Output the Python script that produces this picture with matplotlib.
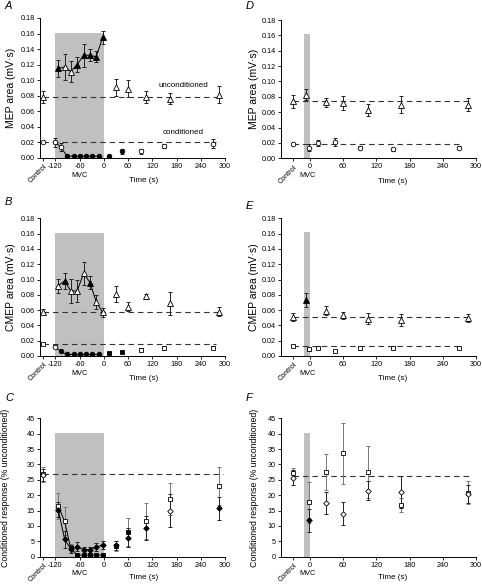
import numpy as np
import matplotlib
matplotlib.use("Agg")
import matplotlib.pyplot as plt

plt.rcParams['font.family'] = ['Liberation Sans', 'DejaVu Sans']

# ---- time axes ----
# left column (long MVC)
L_ctrl_t = -150
L_unc_mvc_t = [-113, -97, -82, -66, -50, -34, -19, -3]
L_con_mvc_t = [-120, -107, -91, -75, -60, -45, -29, -13]
L_unc_post_t = [30, 60, 105, 165, 285]
L_con_post_t = [14, 45, 91, 150, 270]
L_xticks = [-150, -120, -60, 0, 60, 120, 180, 240, 300]
L_xticklabels = ['Control', '-120', '-60', '0', '60', '120', '180', '240', '300']
L_band = (-120, 0)

# right column (brief MVC)
R_ctrl_t = -30
R_unc_mvc_t = [-7]
R_con_mvc_t = [-2]
R_unc_post_t = [30, 60, 105, 165, 285]
R_con_post_t = [15, 45, 90, 150, 270]
R_xticks = [-30, 0, 60, 120, 180, 240, 300]
R_xticklabels = ['Control', '0', '60', '120', '180', '240', '300']
R_band = (-10, 0)

# ---- panel A: MEP area ----
a_unc_ctrl, a_unc_ctrl_err = 0.078, 0.008
a_unc_mvc = [0.115, 0.117, 0.111, 0.120, 0.132, 0.132, 0.130, 0.155]
a_unc_mvc_err = [0.011, 0.017, 0.014, 0.010, 0.015, 0.008, 0.007, 0.008]
a_unc_mvc_fill = [1, 0, 0, 1, 1, 1, 1, 1]
a_unc_post = [0.091, 0.089, 0.078, 0.076, 0.081]
a_unc_post_err = [0.011, 0.011, 0.008, 0.007, 0.011]
a_unc_post_fill = [0, 0, 0, 0, 0]
a_con_ctrl, a_con_ctrl_err = 0.0205, 0.001
a_con_mvc = [0.020, 0.014, 0.002, 0.002, 0.002, 0.002, 0.002, 0.002]
a_con_mvc_err = [0.006, 0.005, 0, 0, 0, 0, 0, 0]
a_con_mvc_fill = [0, 0, 1, 1, 1, 1, 1, 1]
a_con_post = [0.002, 0.008, 0.008, 0.015, 0.018]
a_con_post_err = [0.001, 0.003, 0.003, 0.003, 0.006]
a_con_post_fill = [1, 1, 0, 0, 0]
a_unc_mean, a_con_mean = 0.078, 0.0205

# ---- panel B: CMEP area ----
b_unc_ctrl, b_unc_ctrl_err = 0.058, 0.003
b_unc_mvc = [0.092, 0.098, 0.085, 0.085, 0.108, 0.096, 0.071, 0.057]
b_unc_mvc_err = [0.009, 0.011, 0.016, 0.014, 0.015, 0.009, 0.009, 0.006]
b_unc_mvc_fill = [0, 1, 0, 0, 0, 1, 0, 0]
b_unc_post = [0.081, 0.0645, 0.078, 0.069, 0.058]
b_unc_post_err = [0.011, 0.006, 0.003, 0.015, 0.006]
b_unc_post_fill = [0, 0, 0, 0, 0]
b_con_ctrl, b_con_ctrl_err = 0.016, 0.001
b_con_mvc = [0.012, 0.006, 0.002, 0.002, 0.002, 0.002, 0.002, 0.002]
b_con_mvc_err = [0.002, 0.001, 0, 0, 0, 0, 0, 0]
b_con_mvc_fill = [0, 1, 1, 1, 1, 1, 1, 1]
b_con_post = [0.004, 0.005, 0.008, 0.010, 0.011]
b_con_post_err = [0.001, 0.001, 0.002, 0.002, 0.002]
b_con_post_fill = [1, 1, 0, 0, 0]
b_unc_mean, b_con_mean = 0.058, 0.016

# ---- panel C: conditioned response (% unconditioned) ----
c_sq_ctrl, c_sq_ctrl_err = 26.8, 2.5
c_sq_mvc = [16.5, 11.5, 2.8, 0.5, 0.5, 0.5, 0.5, 0.5]
c_sq_mvc_err = [4.3, 4.5, 1.2, 0.3, 0.3, 0.3, 0.3, 0.3]
c_sq_mvc_fill = [0, 0, 1, 1, 1, 1, 1, 1]
c_sq_post = [3.5, 8.0, 11.7, 18.8, 23.0]
c_sq_post_err = [1.5, 4.5, 5.8, 5.2, 6.3]
c_sq_post_fill = [1, 1, 0, 0, 0]
c_di_ctrl, c_di_ctrl_err = 26.5, 2.0
c_di_mvc = [15.3, 5.7, 2.5, 3.2, 2.3, 2.3, 3.2, 3.7]
c_di_mvc_err = [2.5, 2.8, 1.2, 1.5, 1.0, 1.0, 1.3, 1.3]
c_di_mvc_fill = [1, 1, 1, 1, 1, 1, 1, 1]
c_di_post = [3.7, 6.2, 9.3, 15.0, 15.7]
c_di_post_err = [1.5, 3.0, 4.0, 5.5, 3.7]
c_di_post_fill = [1, 1, 1, 0, 1]
c_mean = 27.0

# ---- panel D ----
d_unc_ctrl, d_unc_ctrl_err = 0.074, 0.008
d_unc_mvc, d_unc_mvc_err, d_unc_mvc_fill = [0.083], [0.007], [0]
d_unc_post = [0.073, 0.072, 0.063, 0.070, 0.070]
d_unc_post_err = [0.006, 0.009, 0.008, 0.011, 0.009]
d_con_ctrl, d_con_ctrl_err = 0.018, 0.001
d_con_mvc, d_con_mvc_err, d_con_mvc_fill = [0.014], [0.004], [0]
d_con_post = [0.020, 0.021, 0.014, 0.012, 0.014]
d_con_post_err = [0.004, 0.005, 0.002, 0.002, 0.002]
d_unc_mean, d_con_mean = 0.075, 0.018

# ---- panel E ----
e_unc_ctrl, e_unc_ctrl_err = 0.051, 0.005
e_unc_mvc, e_unc_mvc_err, e_unc_mvc_fill = [0.073], [0.009], [1]
e_unc_post = [0.059, 0.053, 0.049, 0.047, 0.050]
e_unc_post_err = [0.006, 0.005, 0.007, 0.008, 0.005]
e_con_ctrl, e_con_ctrl_err = 0.013, 0.001
e_con_mvc, e_con_mvc_err, e_con_mvc_fill = [0.009], [0.002], [0]
e_con_post = [0.011, 0.007, 0.010, 0.010, 0.011]
e_con_post_err = [0.002, 0.001, 0.002, 0.001, 0.001]
e_unc_mean, e_con_mean = 0.051, 0.013

# ---- panel F ----
f_sq_ctrl, f_sq_ctrl_err = 27.2, 1.8
f_sq_mvc, f_sq_mvc_err, f_sq_mvc_fill = [17.7], [6.6], [0]
f_sq_post = [27.5, 33.6, 27.6, 16.7, 20.8]
f_sq_post_err = [5.8, 10.0, 8.5, 2.3, 3.7]
f_di_ctrl, f_di_ctrl_err = 25.7, 2.5
f_di_mvc, f_di_mvc_err, f_di_mvc_fill = [11.8], [3.7], [1]
f_di_post = [17.5, 14.0, 21.5, 21.0, 20.3]
f_di_post_err = [3.5, 3.8, 3.0, 5.3, 3.0]
f_mean = 26.3

area_yticks = np.arange(0, 0.181, 0.02)
pct_yticks = np.arange(0, 46, 5)

W, H = 482, 585
fig = plt.figure(figsize=(W / 100, H / 100), dpi=100)


def rect(x0, x1, ytop, ybot):
    return [x0 / W, 1 - ybot / H, (x1 - x0) / W, (ybot - ytop) / H]


def draw_series(ax, t, y, err, filled, marker, ms, ecolor='#222222', line=False):
    t, y, err = np.asarray(t, float), np.asarray(y, float), np.asarray(err, float)
    filled = np.asarray(filled, bool)
    ax.errorbar(t, y, yerr=err, fmt='none', ecolor=ecolor, elinewidth=0.7,
                capsize=1.7, capthick=0.7, zorder=3)
    if line:
        ax.plot(t, y, color='black', lw=0.7, zorder=3)
    ax.plot(t[filled], y[filled], ls='none', marker=marker, ms=ms,
            mfc='black', mec='black', mew=0.6, zorder=4)
    ax.plot(t[~filled], y[~filled], ls='none', marker=marker, ms=ms,
            mfc='white', mec='black', mew=0.6, zorder=4)


def mean_line(ax, x0, x1, y):
    ax.plot([x0, x1], [y, y], ls=(0, (5, 3.5)), color='#333333', lw=0.8, zorder=2)


def setup(ax, xlim, xticks, xticklabels, band, band_top, ylim, yticks, yfmt,
          ylabel, ylab_size, ylab_x, mvc_x, tlab_x, mvc_y, tlab_y):
    ax.fill_between(band, 0, band_top, color='#c0c0c0', lw=0, zorder=0)
    ax.set_xlim(*xlim)
    ax.set_ylim(*ylim)
    ax.set_xticks(xticks)
    ax.set_xticklabels(xticklabels)
    ax.set_yticks(yticks)
    ax.set_yticklabels([yfmt.format(v) for v in yticks])
    for s in ['top', 'right']:
        ax.spines[s].set_visible(False)
    for s in ['left', 'bottom']:
        ax.spines[s].set_linewidth(0.7)
    ax.tick_params(labelsize=5.2, length=2.2, width=0.6, pad=1.5)
    ctrl = ax.get_xticklabels()[0]
    ctrl.set_rotation(45)
    ctrl.set_ha('right')
    ctrl.set_va('top')
    ctrl.set_rotation_mode('anchor')
    ax.text(mvc_x, mvc_y, 'MVC', transform=ax.get_xaxis_transform(),
            ha='center', va='center', fontsize=5.2)
    ax.set_xlabel('Time (s)', fontsize=5.8)
    ax.xaxis.set_label_coords(tlab_x, tlab_y)
    ax.set_ylabel(ylabel, fontsize=ylab_size)
    ax.yaxis.set_label_coords(ylab_x, 0.5)


ylab_area = 'MEP area (mV\u00b7s)'
ylab_carea = 'CMEP area (mV\u00b7s)'
ylab_pct = 'Conditioned response (% unconditioned)'

# ---------- Panel A ----------
axA = fig.add_axes(rect(40, 225, 18, 157.7))
setup(axA, (-158, 300), L_xticks, L_xticklabels, L_band, 0.161, (0, 0.18),
      area_yticks, '{:.2f}', ylab_area, 7.5, -0.13, -60, 0.56, -0.125, -0.14)
mean_line(axA, L_ctrl_t, 292, a_unc_mean)
mean_line(axA, L_ctrl_t, 278, a_con_mean)
draw_series(axA, [L_ctrl_t], [a_unc_ctrl], [a_unc_ctrl_err], [0], '^', 3.8)
draw_series(axA, L_unc_mvc_t, a_unc_mvc, a_unc_mvc_err, a_unc_mvc_fill, '^', 3.8, line=True)
draw_series(axA, L_unc_post_t, a_unc_post, a_unc_post_err, a_unc_post_fill, '^', 3.8)
draw_series(axA, [L_ctrl_t], [a_con_ctrl], [a_con_ctrl_err], [0], 'o', 3.3)
draw_series(axA, L_con_mvc_t, a_con_mvc, a_con_mvc_err, a_con_mvc_fill, 'o', 3.3, line=True)
draw_series(axA, L_con_post_t, a_con_post, a_con_post_err, a_con_post_fill, 'o', 3.3)
axA.text(197, 0.0924, 'unconditioned', ha='center', va='center', fontsize=5.8)
axA.text(197, 0.0327, 'conditioned', ha='center', va='center', fontsize=5.8)

# ---------- Panel B ----------
axB = fig.add_axes(rect(40, 225, 218.3, 356))
setup(axB, (-158, 300), L_xticks, L_xticklabels, L_band, 0.161, (0, 0.18),
      area_yticks, '{:.2f}', ylab_carea, 7.5, -0.13, -60, 0.56, -0.125, -0.14)
mean_line(axB, L_ctrl_t, 292, b_unc_mean)
mean_line(axB, L_ctrl_t, 278, b_con_mean)
draw_series(axB, [L_ctrl_t], [b_unc_ctrl], [b_unc_ctrl_err], [0], '^', 3.8)
draw_series(axB, L_unc_mvc_t, b_unc_mvc, b_unc_mvc_err, b_unc_mvc_fill, '^', 3.8, line=True)
draw_series(axB, L_unc_post_t, b_unc_post, b_unc_post_err, b_unc_post_fill, '^', 3.8)
draw_series(axB, [L_ctrl_t], [b_con_ctrl], [b_con_ctrl_err], [0], 's', 3.0)
draw_series(axB, L_con_mvc_t, b_con_mvc, b_con_mvc_err, b_con_mvc_fill, 'o', 3.3, line=True)
draw_series(axB, L_con_post_t, b_con_post, b_con_post_err, b_con_post_fill, 's', 3.0)

# ---------- Panel C ----------
axC = fig.add_axes(rect(40, 225, 418.3, 556.7))
setup(axC, (-158, 300), L_xticks, L_xticklabels, L_band, 40.3, (0, 45),
      pct_yticks, '{:d}', ylab_pct, 6.3, -0.16, -60, 0.56, -0.12, -0.125)
mean_line(axC, L_ctrl_t, 295, c_mean)
draw_series(axC, [L_ctrl_t], [c_sq_ctrl], [c_sq_ctrl_err], [0], 's', 3.0, ecolor='#777777')
draw_series(axC, L_unc_mvc_t, c_sq_mvc, c_sq_mvc_err, c_sq_mvc_fill, 's', 3.0, ecolor='#777777', line=True)
draw_series(axC, L_unc_post_t, c_sq_post, c_sq_post_err, c_sq_post_fill, 's', 3.0, ecolor='#777777')
draw_series(axC, [L_ctrl_t], [c_di_ctrl], [c_di_ctrl_err], [0], 'D', 2.8)
draw_series(axC, L_unc_mvc_t, c_di_mvc, c_di_mvc_err, c_di_mvc_fill, 'D', 2.8, line=True)
draw_series(axC, L_unc_post_t, c_di_post, c_di_post_err, c_di_post_fill, 'D', 2.8)

# ---------- Panel D ----------
axD = fig.add_axes(rect(281, 476, 20, 158.3))
setup(axD, (-52, 300), R_xticks, R_xticklabels, R_band, 0.162, (0, 0.18),
      area_yticks, '{:.2f}', ylab_area, 7.5, -0.115, -5, 0.57, -0.125, -0.14)
mean_line(axD, R_ctrl_t, 290, d_unc_mean)
mean_line(axD, R_ctrl_t, 270, d_con_mean)
draw_series(axD, [R_ctrl_t], [d_unc_ctrl], [d_unc_ctrl_err], [0], '^', 3.8)
draw_series(axD, R_unc_mvc_t, d_unc_mvc, d_unc_mvc_err, d_unc_mvc_fill, '^', 3.8)
draw_series(axD, R_unc_post_t, d_unc_post, d_unc_post_err, [0] * 5, '^', 3.8)
draw_series(axD, [R_ctrl_t], [d_con_ctrl], [d_con_ctrl_err], [0], 'o', 3.3)
draw_series(axD, R_con_mvc_t, d_con_mvc, d_con_mvc_err, d_con_mvc_fill, 'o', 3.3)
draw_series(axD, R_con_post_t, d_con_post, d_con_post_err, [0] * 5, 'o', 3.3)

# ---------- Panel E ----------
axE = fig.add_axes(rect(281, 476, 218.3, 356))
setup(axE, (-52, 300), R_xticks, R_xticklabels, R_band, 0.162, (0, 0.18),
      area_yticks, '{:.2f}', ylab_carea, 7.5, -0.115, -5, 0.57, -0.125, -0.14)
mean_line(axE, R_ctrl_t, 290, e_unc_mean)
mean_line(axE, R_ctrl_t, 270, e_con_mean)
draw_series(axE, [R_ctrl_t], [e_unc_ctrl], [e_unc_ctrl_err], [0], '^', 3.8)
draw_series(axE, R_unc_mvc_t, e_unc_mvc, e_unc_mvc_err, e_unc_mvc_fill, '^', 3.8)
draw_series(axE, R_unc_post_t, e_unc_post, e_unc_post_err, [0] * 5, '^', 3.8)
draw_series(axE, [R_ctrl_t], [e_con_ctrl], [e_con_ctrl_err], [0], 's', 3.0)
draw_series(axE, R_con_mvc_t, e_con_mvc, e_con_mvc_err, e_con_mvc_fill, 's', 3.0)
draw_series(axE, R_con_post_t, e_con_post, e_con_post_err, [0] * 5, 's', 3.0)

# ---------- Panel F ----------
axF = fig.add_axes(rect(281, 476, 418.3, 556.7))
setup(axF, (-52, 300), R_xticks, R_xticklabels, R_band, 40.3, (0, 45),
      pct_yticks, '{:d}', ylab_pct, 6.3, -0.115, -5, 0.57, -0.12, -0.125)
mean_line(axF, R_ctrl_t, 290, f_mean)
draw_series(axF, [R_ctrl_t], [f_sq_ctrl], [f_sq_ctrl_err], [0], 's', 3.0, ecolor='#777777')
draw_series(axF, R_con_mvc_t, f_sq_mvc, f_sq_mvc_err, f_sq_mvc_fill, 's', 3.0, ecolor='#777777')
draw_series(axF, R_unc_post_t, f_sq_post, f_sq_post_err, [0] * 5, 's', 3.0, ecolor='#777777')
draw_series(axF, [R_ctrl_t], [f_di_ctrl], [f_di_ctrl_err], [0], 'D', 2.8)
draw_series(axF, R_con_mvc_t, f_di_mvc, f_di_mvc_err, f_di_mvc_fill, 'D', 2.8)
draw_series(axF, R_unc_post_t, f_di_post, f_di_post_err, [0] * 5, 'D', 2.8)

# panel letters
for letter, (px, py) in zip('ABCDEF', [(5, 6), (5, 202), (5, 398),
                                       (246, 6), (246, 206), (246, 398)]):
    fig.text(px / W, 1 - py / H, letter, fontsize=8, style='italic',
             ha='left', va='center')

fig.savefig('out.png', dpi=100)
